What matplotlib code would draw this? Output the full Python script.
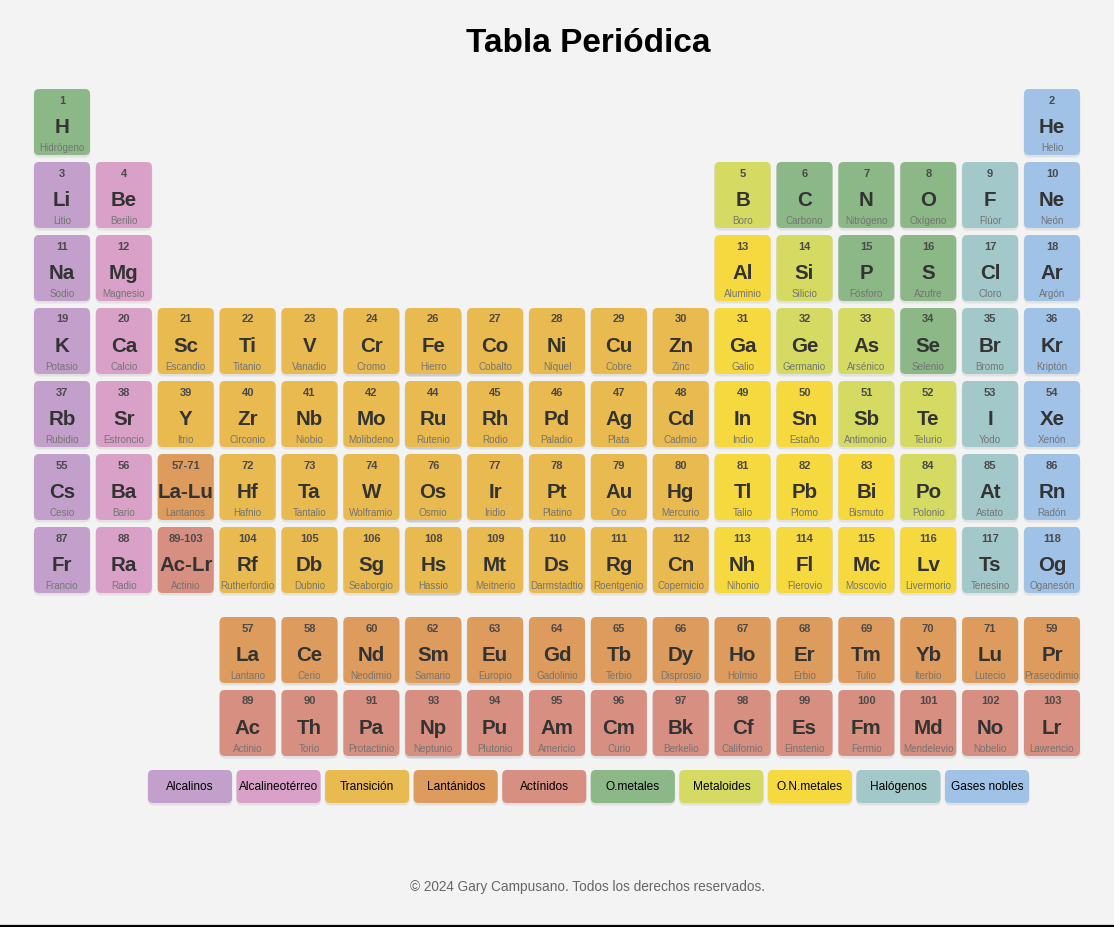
import matplotlib

matplotlib.use("Agg")
import matplotlib.pyplot as plt
from matplotlib.patches import FancyBboxPatch

plt.rcParams["font.family"] = ["Liberation Sans", "DejaVu Sans"]

# %% Data — table layout (17 columns as shown), element info in reading order
grid = [
    ["H"] + [""] * 15 + ["He"],
    ["Li", "Be"] + [""] * 9 + ["B", "C", "N", "O", "F", "Ne"],
    ["Na", "Mg"] + [""] * 9 + ["Al", "Si", "P", "S", "Cl", "Ar"],
    ["K", "Ca", "Sc", "Ti", "V", "Cr", "Fe", "Co", "Ni", "Cu", "Zn", "Ga", "Ge", "As", "Se", "Br", "Kr"],
    ["Rb", "Sr", "Y", "Zr", "Nb", "Mo", "Ru", "Rh", "Pd", "Ag", "Cd", "In", "Sn", "Sb", "Te", "I", "Xe"],
    ["Cs", "Ba", "La-Lu", "Hf", "Ta", "W", "Os", "Ir", "Pt", "Au", "Hg", "Tl", "Pb", "Bi", "Po", "At", "Rn"],
    ["Fr", "Ra", "Ac-Lr", "Rf", "Db", "Sg", "Hs", "Mt", "Ds", "Rg", "Cn", "Nh", "Fl", "Mc", "Lv", "Ts", "Og"],
    [""] * 3 + ["La", "Ce", "Nd", "Sm", "Eu", "Gd", "Tb", "Dy", "Ho", "Er", "Tm", "Yb", "Lu", "Pr"],
    [""] * 3 + ["Ac", "Th", "Pa", "Np", "Pu", "Am", "Cm", "Bk", "Cf", "Es", "Fm", "Md", "No", "Lr"],
]

numbers = [
    "1", "2",
    "3", "4", "5", "6", "7", "8", "9", "10",
    "11", "12", "13", "14", "15", "16", "17", "18",
    "19", "20", "21", "22", "23", "24", "26", "27", "28", "29", "30", "31", "32", "33", "34", "35", "36",
    "37", "38", "39", "40", "41", "42", "44", "45", "46", "47", "48", "49", "50", "51", "52", "53", "54",
    "55", "56", "57-71", "72", "73", "74", "76", "77", "78", "79", "80", "81", "82", "83", "84", "85", "86",
    "87", "88", "89-103", "104", "105", "106", "108", "109", "110", "111", "112", "113", "114", "115", "116", "117", "118",
    "57", "58", "60", "62", "63", "64", "65", "66", "67", "68", "69", "70", "71", "59",
    "89", "90", "91", "93", "94", "95", "96", "97", "98", "99", "100", "101", "102", "103",
]

names = [
    "Hidrógeno", "Helio",
    "Litio", "Berilio", "Boro", "Carbono", "Nitrógeno", "Oxígeno", "Flúor", "Neón",
    "Sodio", "Magnesio", "Aluminio", "Silicio", "Fósforo", "Azufre", "Cloro", "Argón",
    "Potasio", "Calcio", "Escandio", "Titanio", "Vanadio", "Cromo", "Hierro", "Cobalto", "Níquel",
    "Cobre", "Zinc", "Galio", "Germanio", "Arsénico", "Selenio", "Bromo", "Kriptón",
    "Rubidio", "Estroncio", "Itrio", "Circonio", "Niobio", "Molibdeno", "Rutenio", "Rodio", "Paladio",
    "Plata", "Cadmio", "Indio", "Estaño", "Antimonio", "Telurio", "Yodo", "Xenón",
    "Cesio", "Bario", "Lantanos", "Hafnio", "Tantalio", "Wolframio", "Osmio", "Iridio", "Platino",
    "Oro", "Mercurio", "Talio", "Plomo", "Bismuto", "Polonio", "Astato", "Radón",
    "Francio", "Radio", "Actinio", "Rutherfordio", "Dubnio", "Seaborgio", "Hassio", "Meitnerio",
    "Darmstadtio", "Roentgenio", "Copernicio", "Nihonio", "Flerovio", "Moscovio", "Livermorio",
    "Tenesino", "Oganesón",
    "Lantano", "Cerio", "Neodimio", "Samario", "Europio", "Gadolinio", "Terbio", "Disprosio",
    "Holmio", "Erbio", "Tulio", "Iterbio", "Lutecio", "Praseodimio",
    "Actinio", "Torio", "Protactinio", "Neptunio", "Plutonio", "Americio", "Curio", "Berkelio",
    "Californio", "Einstenio", "Fermio", "Mendelevio", "Nobelio", "Lawrencio",
]

categories = (
    ["nom", "gas"]
    + ["alc", "ate", "mtl", "nom", "nom", "nom", "hal", "gas"]
    + ["alc", "ate", "onm", "mtl", "nom", "nom", "hal", "gas"]
    + ["alc", "ate"] + ["tra"] * 9 + ["onm", "mtl", "mtl", "nom", "hal", "gas"]
    + ["alc", "ate"] + ["tra"] * 9 + ["onm", "onm", "mtl", "mtl", "hal", "gas"]
    + ["alc", "ate", "lan"] + ["tra"] * 8 + ["onm", "onm", "onm", "mtl", "hal", "gas"]
    + ["alc", "ate", "act"] + ["tra"] * 8 + ["onm", "onm", "onm", "onm", "hal", "gas"]
    + ["lan"] * 14
    + ["act"] * 14
)

legend_keys = ["alc", "ate", "tra", "lan", "act", "nom", "mtl", "onm", "hal", "gas"]
legend_labels = ["Alcalinos", "Alcalineotérreo", "Transición", "Lantánidos", "Actínidos",
                 "O.metales", "Metaloides", "O.N.metales", "Halógenos", "Gases nobles"]
legend_colors = ["#c2a0cb", "#d9a1c7", "#e9ba4f", "#dd9b5d", "#d68f80",
                 "#8bb886", "#d5da63", "#f5d93e", "#a2c8c9", "#a0c2e7"]

# %% Layout (pixels)
W, H = 1114, 927
BG = "#f3f3f3"
X0, DX, CW = 34, 61.875, 56
ROW_TOPS = [89, 162, 235, 308, 381, 454, 527, 617, 690]
CH = 66

color_of = dict(zip(legend_keys, legend_colors))
info = dict(zip([s for row in grid for s in row if s], zip(numbers, names, categories)))

fig = plt.figure(figsize=(W / 100, H / 100), dpi=100, facecolor=BG)
ax = fig.add_axes([0, 0, 1, 1])
ax.set_xlim(0, W)
ax.set_ylim(H, 0)
ax.axis("off")
ax.set_facecolor(BG)


def card(x, y, w, h, color, shadow=0.07):
    ax.add_patch(FancyBboxPatch((x - 0.5, y + 1.5), w + 1, h + 1, boxstyle="round,pad=0,rounding_size=6",
                                fc="black", ec="none", alpha=shadow, zorder=1))
    ax.add_patch(FancyBboxPatch((x, y), w, h, boxstyle="round,pad=0,rounding_size=5",
                                fc=color, ec="none", zorder=2))


ax.text(588.5, 43, "Tabla Periódica", ha="center", va="center", fontsize=24, fontweight="bold", color="black")

for r, row in enumerate(grid):
    top = ROW_TOPS[r]
    for c, sym in enumerate(row):
        if not sym:
            continue
        num, name, cat = info[sym]
        x = X0 + c * DX
        cx = x + CW / 2
        card(x, top, CW, CH, color_of[cat], shadow=0.16 if c == 6 else 0.07)
        ax.text(cx, top + 11.5, num, ha="center", va="center", fontsize=8, fontweight="bold",
                color="#4a4a4a", zorder=3)
        ax.text(cx, top + 38.5, sym, ha="center", va="center", fontsize=14.8, fontweight="bold",
                color="#333333", zorder=3)
        ax.text(cx, top + 59, name, ha="center", va="center", fontsize=7.1, color="#747474", zorder=3)

# legend row
LX0, LDX, LW, LY, LH = 148, 88.56, 84, 770, 33
for i, (label, col) in enumerate(zip(legend_labels, legend_colors)):
    x = LX0 + i * LDX
    card(x, LY, LW, LH, col)
    ax.text(x + LW / 2, LY + LH / 2 + 0.5, label, ha="center", va="center", fontsize=8.6, color="black", zorder=3)

ax.text(588, 886.5, "© 2024 Gary Campusano. Todos los derechos reservados.", ha="center", va="center",
        fontsize=9.8, color="#666666")
ax.plot([0, W], [925.8, 925.8], color="black", lw=1.6, solid_capstyle="butt")

fig.savefig("out.png", dpi=100, facecolor=BG)
